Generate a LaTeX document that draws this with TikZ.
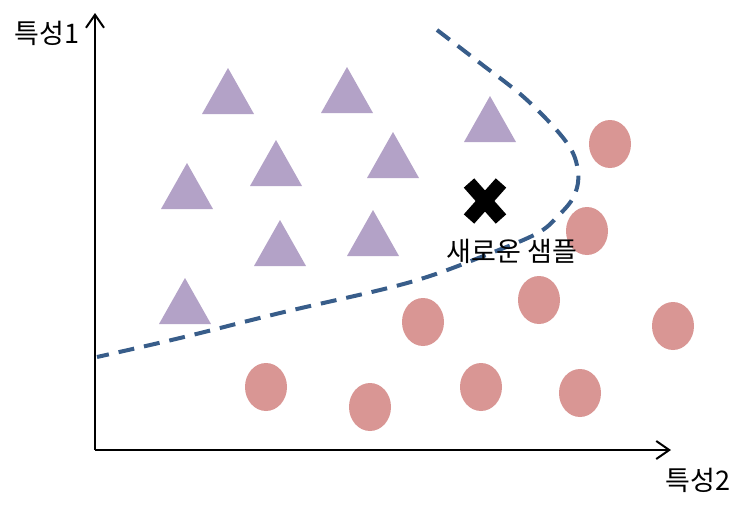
\documentclass[tikz,border=0pt]{standalone}
\usepackage{fontspec}
\setmainfont{Noto Sans CJK KR}
\usetikzlibrary{arrows.meta}
\definecolor{tricol}{HTML}{B3A2C7}
\definecolor{dotcol}{HTML}{D99694}
\definecolor{bndcol}{HTML}{385D8A}
\tikzset{
  axis/.style={line width=2pt, -{Straight Barb[length=13pt,width=18pt,line width=2pt]}},
  lbl/.style={font=\fontsize{27pt}{32pt}\selectfont, inner sep=0pt},
  boundary/.style={bndcol, line width=4pt, dash pattern=on 16pt off 10pt},
  tri/.pic={\fill[tricol] (0,-23) -- (26,23) -- (-26,23) -- cycle;},
  dot/.pic={\fill[dotcol] (0,0) ellipse [x radius=21, y radius=24];},
  cross/.style={line width=14pt, black}
}
\begin{document}
\begin{tikzpicture}[x=1pt,y=-1pt]
\useasboundingbox (0,0) rectangle (745,509);
% axes
\coordinate (O) at (95,450);
\coordinate (Ytip) at (95,13);
\coordinate (Xtip) at (671,450);
\draw[axis] (O) -- (Ytip);
\draw[axis] (O) -- (Xtip);
\node[lbl] (ylab) at (47,33) {특성1};
\node[lbl] (xlab) at (698,480) {특성2};
% triangles
\foreach \x/\y in {228/91, 347/90, 490/119, 276/163, 393/155, 187/186, 280/243, 373/233, 185/301}
  \pic at (\x,\y) {tri};
% circles
\foreach \x/\y in {610/144, 587/231, 539/300, 423/322, 673/326, 266/387, 370/407, 481/387, 580/393}
  \pic at (\x,\y) {dot};
% decision boundary
\draw[boundary] plot[smooth, tension=0.6] coordinates {(437,30) (480,63) (527,100) (567,143) (578,172) (574,196) (558,216) (536,234) (481,257) (430,276) (380,290) (280,313) (180,338) (97,357)};
% new sample
\coordinate (S) at (485,201);
\draw[cross] ([shift={(-16,-18)}]S) -- ([shift={(16,18)}]S);
\draw[cross] ([shift={(16,-18)}]S) -- ([shift={(-16,18)}]S);
\node[lbl] (slab) at (512,251) {새로운 샘플};
\end{tikzpicture}
\end{document}
